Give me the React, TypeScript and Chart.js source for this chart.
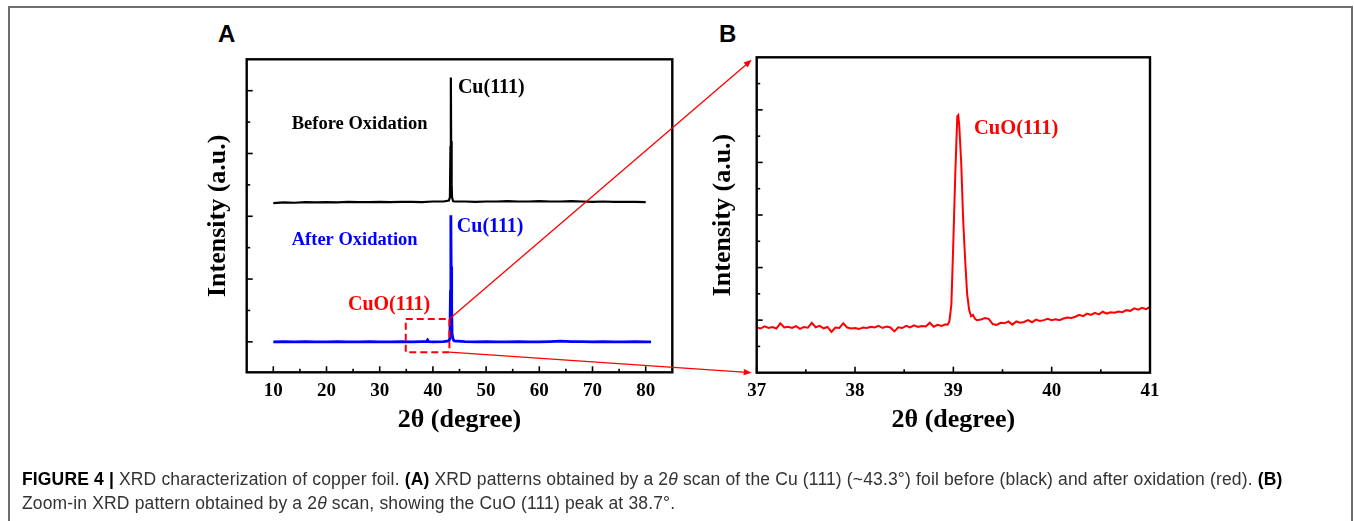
import React, { useEffect, useRef } from "react";
import { Chart, registerables } from "chart.js";

Chart.register(...registerables);

const SERIF = '"Liberation Serif", "Times New Roman", Times, serif';
const SANS = '"Liberation Sans", Arial, Helvetica, sans-serif';

// ---------------- Panel A : full 2θ scan ----------------
const aXTicks = [10, 20, 30, 40, 50, 60, 70, 80];
const aXMinor = [15, 25, 35, 45, 55, 65, 75];
const aYMajor = [0, 2, 4, 6, 8];
const aYMinor = [1, 3, 5, 7];

const beforeTheta = [10, 12, 14, 16, 18, 20, 22, 24, 26, 28, 30, 32, 34, 36, 38, 40, 42, 43.0, 43.2, 43.3, 43.35, 43.4, 43.45, 43.5, 43.55, 43.6, 43.8, 44, 46, 48, 50, 52, 54, 56, 58, 60, 62, 64, 66, 68, 70, 72, 74, 76, 78, 80];
const beforeIntensity = [4.42, 4.44, 4.43, 4.45, 4.44, 4.45, 4.44, 4.46, 4.45, 4.45, 4.46, 4.45, 4.46, 4.46, 4.45, 4.47, 4.47, 4.5, 4.6, 6.2, 7.8, 8.42, 5.6, 6.4, 5.0, 4.6, 4.48, 4.47, 4.47, 4.46, 4.47, 4.47, 4.48, 4.47, 4.47, 4.48, 4.47, 4.47, 4.48, 4.47, 4.46, 4.47, 4.46, 4.46, 4.46, 4.45];

const afterTheta = [10, 12, 14, 16, 18, 20, 22, 24, 26, 28, 30, 32, 34, 36, 38, 38.8, 39.0, 39.2, 40, 42, 43.0, 43.2, 43.3, 43.35, 43.4, 43.45, 43.5, 43.55, 43.6, 43.8, 44, 46, 48, 50, 52, 54, 56, 58, 60, 62, 64, 66, 68, 70, 72, 74, 76, 78, 80, 81];
const afterIntensity = [0.0, 0.01, 0.0, 0.01, 0.0, 0.0, 0.01, 0.0, 0.0, 0.01, 0.0, 0.0, 0.01, 0.0, 0.01, 0.01, 0.06, 0.01, 0.0, 0.01, 0.03, 0.12, 1.6, 3.2, 4.03, 2.0, 2.4, 1.2, 0.25, 0.08, 0.03, 0.01, 0.0, 0.01, 0.0, 0.0, 0.01, 0.0, 0.0, 0.01, 0.02, 0.01, 0.01, 0.0, 0.01, 0.0, 0.0, 0.01, 0.0, 0.0];

// zoom window marked in panel A (2θ range and intensity range)
const zoomWindowTheta = [34.9, 43.1];
const zoomWindowIntensity = [-0.33, 0.73];

// ---------------- Panel B : zoom on CuO(111) ----------------
const bXTicks = [37, 38, 39, 40, 41];
const bXMinor = [37.5, 38.5, 39.5, 40.5];
const bYMajor = [2, 4, 6, 8, 10];
const bYMinor = [1, 3, 5, 7, 9, 11];

const bTheta = [
  37.00, 37.04, 37.08, 37.12, 37.16, 37.20, 37.24, 37.28, 37.32, 37.36,
  37.40, 37.44, 37.48, 37.52, 37.56, 37.60, 37.64, 37.68, 37.72, 37.76,
  37.80, 37.84, 37.88, 37.92, 37.96, 38.00, 38.04, 38.08, 38.12, 38.16,
  38.20, 38.24, 38.28, 38.32, 38.36, 38.40, 38.44, 38.48, 38.52, 38.56,
  38.60, 38.64, 38.68, 38.72, 38.76, 38.80, 38.84, 38.88, 38.92, 38.94,
  38.96, 38.98, 39.00, 39.02, 39.04, 39.05, 39.06, 39.08, 39.10, 39.12,
  39.14, 39.16, 39.18, 39.20, 39.22, 39.24, 39.28, 39.32, 39.36, 39.40,
  39.44, 39.48, 39.52, 39.56, 39.60, 39.64, 39.68, 39.72, 39.76, 39.80,
  39.84, 39.88, 39.92, 39.96, 40.00, 40.04, 40.08, 40.12, 40.16, 40.20,
  40.24, 40.28, 40.32, 40.36, 40.40, 40.44, 40.48, 40.52, 40.56, 40.60,
  40.64, 40.68, 40.72, 40.76, 40.80, 40.84, 40.88, 40.92, 40.96, 41.00,
];
const bIntensity = [
  1.72, 1.68, 1.76, 1.70, 1.74, 1.68, 1.88, 1.72, 1.75, 1.70,
  1.77, 1.67, 1.74, 1.71, 1.90, 1.73, 1.78, 1.69, 1.74, 1.55,
  1.72, 1.70, 1.88, 1.72, 1.68, 1.70, 1.66, 1.72, 1.70, 1.75,
  1.72, 1.78, 1.70, 1.76, 1.72, 1.57, 1.73, 1.70, 1.78, 1.72,
  1.80, 1.74, 1.78, 1.76, 1.90, 1.75, 1.82, 1.78, 1.84, 1.82,
  1.95, 2.60, 5.00, 7.60, 9.75, 9.80, 9.40, 8.00, 5.80, 4.30,
  3.00, 2.40, 2.15, 2.20, 2.05, 2.00, 2.02, 2.08, 2.05, 1.85,
  1.82, 1.90, 1.88, 1.95, 1.83, 1.95, 1.90, 1.93, 2.00, 1.92,
  2.02, 1.97, 2.00, 2.05, 2.00, 2.03, 2.00, 2.06, 2.10, 2.08,
  2.13, 2.20, 2.15, 2.25, 2.20, 2.28, 2.22, 2.32, 2.25, 2.30,
  2.28, 2.33, 2.30, 2.38, 2.35, 2.45, 2.40, 2.47, 2.42, 2.50,
];

// text annotations, placed in data coordinates
const aLabels = [
  { text: "Cu(111)", x: 44.7, y: 8.08, color: "#000000", size: 20 },
  { text: "Before Oxidation", x: 13.46, y: 6.93, color: "#000000", size: 18.5 },
  { text: "After Oxidation", x: 13.46, y: 3.23, color: "#0000ff", size: 18.5 },
  { text: "Cu(111)", x: 44.5, y: 3.66, color: "#0000ff", size: 20 },
  { text: "CuO(111)", x: 24.04, y: 1.18, color: "#ff0000", size: 20 },
];
const bLabels = [{ text: "CuO(111)", x: 39.21, y: 9.3, color: "#ff0000", size: 20.5 }];

const toPoints = (xs: number[], ys: number[]) => xs.map((x, i) => ({ x, y: ys[i] }));

const frameTicksPlugin = {
  id: "frameTicks",
  afterDatasetsDraw(chart: any, _args: any, opts: any) {
    const { ctx, chartArea: a, scales } = chart;
    const sx = scales.x;
    const sy = scales.y;
    ctx.save();
    ctx.strokeStyle = "#000";
    ctx.lineWidth = 1.6;
    const seg = (x1: number, y1: number, x2: number, y2: number) => {
      ctx.beginPath();
      ctx.moveTo(x1, y1);
      ctx.lineTo(x2, y2);
      ctx.stroke();
    };
    (opts.xMajor || []).forEach((v: number) => { const p = sx.getPixelForValue(v); seg(p, a.bottom, p, a.bottom - 6); });
    (opts.xMinor || []).forEach((v: number) => { const p = sx.getPixelForValue(v); seg(p, a.bottom, p, a.bottom - 3.5); });
    (opts.yMajor || []).forEach((v: number) => { const p = sy.getPixelForValue(v); seg(a.left, p, a.left + 6, p); });
    (opts.yMinor || []).forEach((v: number) => { const p = sy.getPixelForValue(v); seg(a.left, p, a.left + 3.5, p); });
    ctx.lineWidth = 2.4;
    ctx.strokeRect(a.left, a.top, a.right - a.left, a.bottom - a.top);
    ctx.restore();
  },
};

const notesPlugin = {
  id: "notes",
  afterDatasetsDraw(chart: any, _args: any, opts: any) {
    const { ctx, scales } = chart;
    const sx = scales.x;
    const sy = scales.y;
    ctx.save();
    (opts.labels || []).forEach((l: any) => {
      ctx.fillStyle = l.color;
      ctx.font = `bold ${l.size}px ${SERIF}`;
      ctx.textAlign = "left";
      ctx.textBaseline = "middle";
      ctx.fillText(l.text, sx.getPixelForValue(l.x), sy.getPixelForValue(l.y));
    });
    if (opts.box) {
      const b = opts.box;
      const x1 = sx.getPixelForValue(b.x[0]);
      const x2 = sx.getPixelForValue(b.x[1]);
      const y1 = sy.getPixelForValue(b.y[1]);
      const y2 = sy.getPixelForValue(b.y[0]);
      ctx.strokeStyle = "#ff0000";
      ctx.lineWidth = 2;
      ctx.setLineDash([7, 4]);
      ctx.strokeRect(x1, y1, x2 - x1, y2 - y1);
    }
    ctx.restore();
  },
};

function panelConfig(p: any) {
  return {
    type: "line",
    data: { datasets: p.datasets },
    options: {
      animation: false,
      responsive: false,
      maintainAspectRatio: false,
      devicePixelRatio: 1,
      layout: { padding: p.padding },
      plugins: {
        legend: { display: false },
        tooltip: { enabled: false },
        frameTicks: p.frame,
        notes: p.notes,
      },
      elements: { point: { radius: 0 }, line: { tension: 0 } },
      scales: {
        x: {
          type: "linear",
          min: p.xMin,
          max: p.xMax,
          afterBuildTicks: (s: any) => {
            s.ticks = p.xTicks.map((v: number) => ({ value: v }));
          },
          afterFit: (s: any) => {
            s.height = p.xAxisHeight;
          },
          grid: { display: false, drawTicks: false },
          border: { display: false },
          ticks: {
            autoSkip: false,
            maxRotation: 0,
            padding: 7,
            color: "#000",
            font: { family: SERIF, size: 19, weight: "bold" },
          },
          title: {
            display: true,
            text: "2θ (degree)",
            color: "#000",
            font: { family: SERIF, size: 26, weight: "bold" },
            padding: { top: 0, bottom: 4.4 },
          },
        },
        y: {
          type: "linear",
          min: p.yMin,
          max: p.yMax,
          afterFit: (s: any) => {
            s.width = p.yAxisWidth;
          },
          grid: { display: false, drawTicks: false },
          border: { display: false },
          ticks: { display: false },
          title: {
            display: true,
            text: "Intensity (a.u.)",
            color: "#000",
            font: { family: SERIF, size: 26, weight: "bold" },
            padding: { top: p.yTitlePad, bottom: 0 },
          },
        },
      },
    },
    plugins: [frameTicksPlugin, notesPlugin],
  };
}

function drawConnectors(overlay: HTMLCanvasElement, ca: any, cb: any, aCanvas: HTMLCanvasElement, bCanvas: HTMLCanvasElement) {
  const ctx = overlay.getContext("2d");
  if (!ctx) return;
  ctx.clearRect(0, 0, overlay.width, overlay.height);
  const ax = (v: number) => aCanvas.offsetLeft + ca.scales.x.getPixelForValue(v);
  const ay = (v: number) => aCanvas.offsetTop + ca.scales.y.getPixelForValue(v);
  const bx = (v: number) => bCanvas.offsetLeft + cb.scales.x.getPixelForValue(v);
  const by = (v: number) => bCanvas.offsetTop + cb.scales.y.getPixelForValue(v);
  const bxMin = cb.scales.x.min;
  const byMin = cb.scales.y.min;
  const byMax = cb.scales.y.max;
  const segs = [
    [ax(zoomWindowTheta[1]), ay(zoomWindowIntensity[1]), bx(bxMin) - 5, by(byMax) + 2.5],
    [ax(zoomWindowTheta[1]), ay(zoomWindowIntensity[0]), bx(bxMin) - 5, by(byMin)],
  ];
  ctx.strokeStyle = "#ff0000";
  ctx.fillStyle = "#ff0000";
  ctx.lineWidth = 1.3;
  segs.forEach(([x1, y1, x2, y2]) => {
    const ang = Math.atan2(y2 - y1, x2 - x1);
    const L = 8;
    const W = 3.2;
    ctx.beginPath();
    ctx.moveTo(x1, y1);
    ctx.lineTo(x2 - Math.cos(ang) * L * 0.6, y2 - Math.sin(ang) * L * 0.6);
    ctx.stroke();
    ctx.beginPath();
    ctx.moveTo(x2, y2);
    ctx.lineTo(x2 - Math.cos(ang) * L - Math.sin(ang) * W, y2 - Math.sin(ang) * L + Math.cos(ang) * W);
    ctx.lineTo(x2 - Math.cos(ang) * L + Math.sin(ang) * W, y2 - Math.sin(ang) * L - Math.cos(ang) * W);
    ctx.closePath();
    ctx.fill();
  });
}

export default function App() {
  const aRef = useRef<HTMLCanvasElement>(null);
  const bRef = useRef<HTMLCanvasElement>(null);
  const oRef = useRef<HTMLCanvasElement>(null);

  useEffect(() => {
    if (!aRef.current || !bRef.current || !oRef.current) return;
    const ca = new Chart(
      aRef.current,
      panelConfig({
        datasets: [
          { data: toPoints(beforeTheta, beforeIntensity), borderColor: "#000000", borderWidth: 2.2 },
          { data: toPoints(afterTheta, afterIntensity), borderColor: "#0000ff", borderWidth: 2.8 },
        ],
        xMin: 5,
        xMax: 85,
        yMin: -0.97,
        yMax: 9,
        xTicks: aXTicks,
        padding: { left: 0, top: 39.3, right: 17.7, bottom: 0 },
        xAxisHeight: 67.7,
        yAxisWidth: 56.7,
        yTitlePad: 12.4,
        frame: { xMajor: aXTicks, xMinor: aXMinor, yMajor: aYMajor, yMinor: aYMinor },
        notes: { labels: aLabels, box: { x: zoomWindowTheta, y: zoomWindowIntensity } },
      }) as any
    );
    const cb = new Chart(
      bRef.current,
      panelConfig({
        datasets: [{ data: toPoints(bTheta, bIntensity), borderColor: "#ff0000", borderWidth: 2 }],
        xMin: 37,
        xMax: 41,
        yMin: 0,
        yMax: 12,
        xTicks: bXTicks,
        padding: { left: 0, top: 37.3, right: 20, bottom: 0 },
        xAxisHeight: 67.3,
        yAxisWidth: 56.7,
        yTitlePad: 7.4,
        frame: { xMajor: bXTicks, xMinor: bXMinor, yMajor: bYMajor, yMinor: bYMinor },
        notes: { labels: bLabels },
      }) as any
    );
    drawConnectors(oRef.current, ca, cb, aRef.current, bRef.current);
    return () => {
      ca.destroy();
      cb.destroy();
    };
  }, []);

  const letter: React.CSSProperties = {
    position: "absolute",
    fontFamily: SANS,
    fontWeight: "bold",
    fontSize: 24,
    lineHeight: "26px",
    color: "#000",
  };
  const capLine: React.CSSProperties = {
    position: "absolute",
    left: 22,
    fontFamily: SANS,
    fontSize: 17.5,
    letterSpacing: "0.15px",
    lineHeight: "24px",
    color: "#333",
    whiteSpace: "nowrap",
  };

  return (
    <div style={{ position: "absolute", left: 0, top: 0, width: 1354, height: 521, overflow: "hidden", background: "#fff" }}>
      <div
        style={{
          position: "absolute",
          left: 8,
          top: 6,
          width: 1345,
          height: 515,
          boxSizing: "border-box",
          borderTop: "2px solid #6e6e6e",
          borderLeft: "2px solid #6e6e6e",
          borderRight: "2px solid #6e6e6e",
        }}
      />
      <div style={{ ...letter, left: 218, top: 21 }}>A</div>
      <div style={{ ...letter, left: 719, top: 21 }}>B</div>
      <canvas ref={aRef} width={500} height={420} style={{ position: "absolute", left: 190, top: 20, width: 500, height: 420 }} />
      <canvas ref={bRef} width={470} height={420} style={{ position: "absolute", left: 700, top: 20, width: 470, height: 420 }} />
      <canvas
        ref={oRef}
        width={1354}
        height={521}
        style={{ position: "absolute", left: 0, top: 0, width: 1354, height: 521, pointerEvents: "none" }}
      />
      <div style={{ ...capLine, top: 467 }}>
        <b style={{ color: "#000" }}>FIGURE 4 |</b> XRD characterization of copper foil. <b style={{ color: "#000" }}>(A)</b> XRD
        patterns obtained by a 2<i>θ</i> scan of the Cu (111) (~43.3°) foil before (black) and after oxidation (red).{" "}
        <b style={{ color: "#000" }}>(B)</b>
      </div>
      <div style={{ ...capLine, top: 491 }}>
        Zoom-in XRD pattern obtained by a 2<i>θ</i> scan, showing the CuO (111) peak at 38.7°.
      </div>
    </div>
  );
}
